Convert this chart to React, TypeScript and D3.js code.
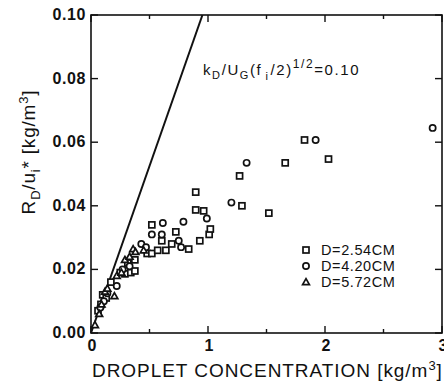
import React from "react";
import * as d3 from "d3";

const W = 444;
const H = 383;
const margin = { left: 91, right: 2, top: 15, bottom: 50 };

const xTicksMajor = [0, 1, 2, 3];
const xTicksMinor = [0.5, 1.5, 2.5];
const yTicks = [0, 0.02, 0.04, 0.06, 0.08, 0.1];
const yTickLabels = ["0.00", "0.02", "0.04", "0.06", "0.08", "0.10"];

// D = 2.54 cm (squares)
const seriesSquare: [number, number][] = [
  [0.06, 0.007], [0.085, 0.009], [0.1, 0.012], [0.13, 0.011], [0.17, 0.016],
  [0.25, 0.019], [0.29, 0.0186], [0.34, 0.019], [0.375, 0.0195], [0.315, 0.022],
  [0.375, 0.023], [0.48, 0.025], [0.52, 0.025], [0.57, 0.026], [0.64, 0.026],
  [0.69, 0.028], [0.605, 0.029], [0.835, 0.0264], [0.725, 0.0318], [0.52, 0.034],
  [0.93, 0.029], [1.01, 0.031], [1.02, 0.0327], [0.895, 0.0387], [0.963, 0.0384],
  [0.895, 0.0443], [1.29, 0.04], [1.52, 0.0377], [1.27, 0.0494], [1.66, 0.0535],
  [1.825, 0.0607], [2.03, 0.0547],
];
// D = 4.20 cm (circles)
const seriesCircle: [number, number][] = [
  [0.08, 0.008], [0.11, 0.01], [0.14, 0.0125], [0.22, 0.0148], [0.27, 0.02],
  [0.33, 0.021], [0.43, 0.028], [0.47, 0.027], [0.52, 0.031], [0.605, 0.031],
  [0.614, 0.0346], [0.75, 0.029], [0.77, 0.027], [0.79, 0.035], [0.99, 0.036],
  [1.2, 0.041], [1.33, 0.0535], [1.92, 0.0607], [2.92, 0.0645],
];
// D = 5.72 cm (triangles)
const seriesTriangle: [number, number][] = [
  [0.034, 0.0025], [0.07, 0.006], [0.09, 0.009], [0.12, 0.013], [0.14, 0.014],
  [0.2, 0.0116], [0.22, 0.018], [0.26, 0.019], [0.29, 0.023], [0.33, 0.024],
  [0.36, 0.0264], [0.38, 0.0255], [0.45, 0.026],
];
const legendLabels = ["D=2.54CM", "D=4.20CM", "D=5.72CM"];
const lineSlope = 0.105;

const FONT = "'Liberation Sans', Arial, Helvetica, sans-serif";

function Marker({ kind, x, y }: { kind: string; x: number; y: number }) {
  const sw = 1.7;
  if (kind === "square")
    return <rect x={x - 3} y={y - 3} width={6} height={6} fill="white" stroke="#111" strokeWidth={sw} />;
  if (kind === "circle")
    return <circle cx={x} cy={y} r={3.1} fill="white" stroke="#111" strokeWidth={sw} />;
  const s = 3.4;
  return (
    <path
      d={`M${x},${y - s} L${x + s},${y + s * 0.75} L${x - s},${y + s * 0.75} Z`}
      fill="white"
      stroke="#111"
      strokeWidth={sw}
    />
  );
}

export default function App() {
  const x = d3.scaleLinear().domain([0, 3]).range([margin.left, W - margin.right]);
  const y = d3.scaleLinear().domain([0, 0.1]).range([H - margin.bottom, margin.top]);
  const [x0, x1] = x.range();
  const [y0, y1] = y.range();
  const lineGen = d3
    .line<[number, number]>()
    .x((d) => x(d[0]))
    .y((d) => y(d[1]));
  const lineData: [number, number][] = [
    [0, 0],
    [0.1 / lineSlope, 0.1],
  ];
  const all: { kind: string; pts: [number, number][] }[] = [
    { kind: "square", pts: seriesSquare },
    { kind: "circle", pts: seriesCircle },
    { kind: "triangle", pts: seriesTriangle },
  ];
  const legendKinds = ["square", "circle", "triangle"];

  return (
    <svg
      width={W}
      height={H}
      style={{ position: "absolute", left: 0, top: 0, background: "white" }}
      fontFamily={FONT}
    >
      <rect x={0} y={0} width={W} height={H} fill="white" />
      {/* frame */}
      <rect x={x0} y={y1} width={x1 - x0} height={y0 - y1} fill="none" stroke="#111" strokeWidth={1.6} />
      {/* x ticks */}
      {xTicksMajor.map((t) => (
        <g key={"xm" + t}>
          <line x1={x(t)} x2={x(t)} y1={y0} y2={y0 - 7} stroke="#111" strokeWidth={1.4} />
          <line x1={x(t)} x2={x(t)} y1={y1} y2={y1 + 7} stroke="#111" strokeWidth={1.4} />
          <text
            x={x(t) + 1}
            y={y0 + 18}
            textAnchor="middle"
            fontSize={16}
            fontWeight="bold"
            fill="#111"
          >
            {t}
          </text>
        </g>
      ))}
      {xTicksMinor.map((t) => (
        <g key={"xn" + t}>
          <line x1={x(t)} x2={x(t)} y1={y0} y2={y0 - 4} stroke="#111" strokeWidth={1.4} />
          <line x1={x(t)} x2={x(t)} y1={y1} y2={y1 + 4} stroke="#111" strokeWidth={1.4} />
        </g>
      ))}
      {/* y ticks */}
      {yTicks.map((t, i) => (
        <g key={"y" + t}>
          <line x1={x0} x2={x0 + 7} y1={y(t)} y2={y(t)} stroke="#111" strokeWidth={1.4} />
          <line x1={x1} x2={x1 - 7} y1={y(t)} y2={y(t)} stroke="#111" strokeWidth={1.4} />
          <text
            x={x0 - 5}
            y={y(t) + 5}
            textAnchor="end"
            fontSize={16}
            fontWeight="bold"
            letterSpacing={0.6}
            fill="#111"
          >
            {yTickLabels[i]}
          </text>
        </g>
      ))}
      {/* theory line */}
      <path d={lineGen(lineData) || ""} fill="none" stroke="#111" strokeWidth={2} />
      {/* data */}
      {all.map((s) =>
        s.pts.map((p, i) => <Marker key={s.kind + i} kind={s.kind} x={x(p[0])} y={y(p[1])} />)
      )}
      {/* annotation */}
      <text x={203} y={75} fontSize={15} letterSpacing={1.6} fill="#111">
        <tspan>k</tspan>
        <tspan dy={4} fontSize={11}>D</tspan>
        <tspan dy={-4}>/U</tspan>
        <tspan dy={4} fontSize={11}>G</tspan>
        <tspan dy={-4}>(f</tspan>
        <tspan dy={5} fontSize={11} dx={3}>i</tspan>
        <tspan dy={-5} dx={1}>/2)</tspan>
        <tspan dy={-7} fontSize={12}>1/2</tspan>
        <tspan dy={7}>=0.10</tspan>
      </text>
      {/* legend */}
      {legendLabels.map((lab, i) => (
        <g key={lab}>
          <Marker kind={legendKinds[i]} x={306} y={250 + i * 16} />
          <text x={321} y={255 + i * 16} fontSize={14.5} letterSpacing={0.6} fill="#111">
            {lab}
          </text>
        </g>
      ))}
      {/* x title */}
      <text x={92} y={377} fontSize={19} letterSpacing={0.95} fill="#111">
        DROPLET CONCENTRATION [kg/m
        <tspan dy={-7} fontSize={13}>3</tspan>
        <tspan dy={7}>]</tspan>
      </text>
      {/* y title */}
      <text
        transform={`translate(35, 152) rotate(-90)`}
        textAnchor="middle"
        fontSize={19}
        letterSpacing={0.8}
        fill="#111"
      >
        R<tspan dy={5} fontSize={13}>D</tspan>
        <tspan dy={-5}>/u</tspan>
        <tspan dy={5} fontSize={13}>i</tspan>
        <tspan dy={-5}>* [kg/m</tspan>
        <tspan dy={-7} fontSize={13}>3</tspan>
        <tspan dy={7}>]</tspan>
      </text>
    </svg>
  );
}
